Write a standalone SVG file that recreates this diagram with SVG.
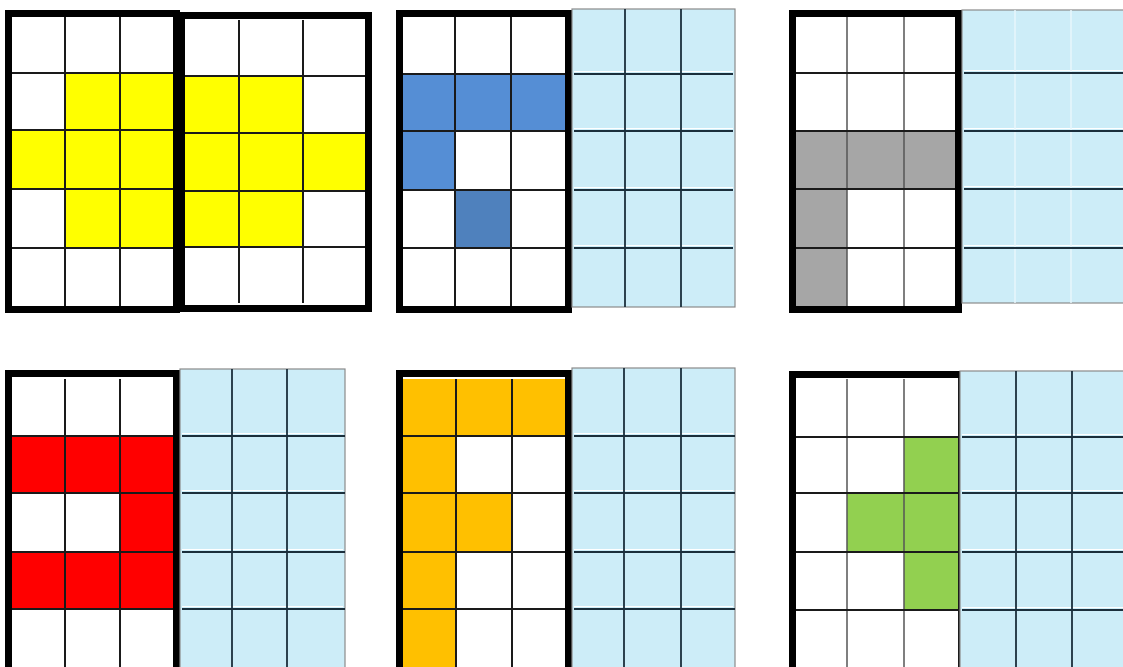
<svg xmlns="http://www.w3.org/2000/svg" width="1123" height="667" viewBox="0 0 1123 667">
<style>
.bg{fill:#ffffff}
.ln{stroke:#1a1a1a;stroke-width:2;fill:none}
.lng{stroke:#555;stroke-width:1.5;fill:none}
.bd{stroke:#000;stroke-width:7;fill:none}
.lb{fill:#CDEDF8;stroke:#8a8a8a;stroke-width:1.2}
.lbh{stroke:#1b2f3c;stroke-width:2.2;fill:none}
.lbv{stroke:#1b2f3c;stroke-width:1.8;fill:none}
.lbvl{stroke:#e8f6fb;stroke-width:1.5;fill:none}
.wh{stroke:#ffffff;stroke-width:1.2;fill:none}
.y{fill:#FFFF00}
.b1{fill:#558ED5}
.b2{fill:#4F81BD}
.g{fill:#A6A6A6}
.r{fill:#FF0000}
.o{fill:#FFC000}
.gr{fill:#92D050}
</style>
<rect width="1123" height="667" fill="#fff"/>

<!-- Panel 1 -->
<g id="panel1-left">
<rect class="y" x="65" y="73" width="109" height="57"/>
<rect class="y" x="12" y="130" width="162" height="59"/>
<rect class="y" x="65" y="189" width="109" height="59"/>
<path class="ln" d="M65 17V306M120 17V306M12 73H174M12 130H174M12 189H174M12 248H174"/>
<rect class="bd" x="8.5" y="13.5" width="168" height="296"/>
</g>
<g id="panel1-right">
<rect class="y" x="185" y="76" width="118" height="57"/>
<rect class="y" x="185" y="133" width="180" height="58"/>
<rect class="y" x="185" y="191" width="118" height="56"/>
<path class="ln" d="M239 20V303M303 20V303M185 76H365M185 133H365M185 191H365M185 247H365"/>
<rect class="bd" x="181.5" y="15.5" width="187" height="293"/>
</g>

<!-- Panel 2 -->
<g id="panel2-left">
<rect class="b1" x="403" y="74" width="162" height="57"/>
<rect class="b1" x="403" y="131" width="52" height="59"/>
<rect class="b2" x="455" y="190" width="56" height="58"/>
<path class="ln" d="M455 17V306M511 17V306M403 74H565M403 131H565M403 190H565M403 248H565"/>
<rect class="bd" x="399.5" y="13.5" width="169" height="296"/>
</g>
<g id="panel2-right">
<rect class="lb" x="572" y="9" width="163" height="298"/>
<path class="wh" d="M574 71.5H733M574 128.5H733M574 187.5H733M574 245.5H733"/>
<path class="lbv" d="M625 9V307M681 9V307"/>
<path class="lbh" d="M574 74H733M574 131H733M574 190H733M574 248H733"/>
</g>

<!-- Panel 3 -->
<g id="panel3-left">
<rect class="g" x="796" y="131" width="160" height="58"/>
<rect class="g" x="796" y="189" width="51" height="117"/>
<path class="lng" d="M847 17V306M904 17V306"/>
<path class="ln" d="M796 73H956M796 131H956M796 189H956M796 248H956"/>
<rect class="bd" x="792.5" y="13.5" width="166" height="296"/>
</g>
<g id="panel3-right">
<rect class="lb" x="962" y="10" width="170" height="293"/>
<path class="wh" d="M964 70.5H1123M964 128.5H1123M964 186.5H1123M964 245.5H1123"/>
<path class="lbvl" d="M1015 10V303M1071 10V303"/>
<path class="lbh" d="M964 73H1123M964 131H1123M964 189H1123M964 248H1123"/>
</g>

<!-- Panel 4 -->
<g id="panel4-left">
<rect class="r" x="12" y="436" width="161" height="57"/>
<rect class="r" x="120" y="493" width="53" height="59"/>
<rect class="r" x="12" y="552" width="161" height="57"/>
<path class="ln" d="M65 379V668M120 379V668M12 436H173M12 493H173M12 552H173M12 609H173"/>
<rect class="bd" x="8.5" y="373.5" width="168" height="310"/>
</g>
<g id="panel4-right">
<rect class="lb" x="180" y="369" width="165" height="310"/>
<path class="wh" d="M182 433.5H343M182 490.5H343M182 549.5H343M182 606.5H343"/>
<path class="lbv" d="M232 369V667M287 369V667"/>
<path class="lbh" d="M182 436H345M182 493H345M182 552H345M182 609H345"/>
</g>

<!-- Panel 5 -->
<g id="panel5-left">
<rect class="o" x="403" y="379" width="162" height="57"/>
<rect class="o" x="403" y="436" width="53" height="232"/>
<rect class="o" x="456" y="493" width="56" height="59"/>
<path class="ln" d="M456 379V668M512 379V668M403 436H565M403 493H565M403 552H565M403 609H565"/>
<rect class="bd" x="399.5" y="373.5" width="169" height="310"/>
</g>
<g id="panel5-right">
<rect class="lb" x="572" y="368" width="163" height="310"/>
<path class="wh" d="M574 433.5H733M574 490.5H733M574 549.5H733M574 606.5H733"/>
<path class="lbv" d="M624 368V667M681 368V667"/>
<path class="lbh" d="M574 436H735M574 493H735M574 552H735M574 609H735"/>
</g>

<!-- Panel 6 -->
<g id="panel6-left">
<rect class="gr" x="904" y="437" width="54" height="56"/>
<rect class="gr" x="847" y="493" width="111" height="59"/>
<rect class="gr" x="904" y="552" width="54" height="58"/>
<path class="lng" d="M847 379V668M904 379V668"/>
<path class="ln" d="M796 437H958M796 493H958M796 552H958M796 610H958"/>
<path class="ln" d="M959 374V668"/>
<path class="bd" d="M792.5 668V374.5H960"/>
</g>
<g id="panel6-right">
<rect class="lb" x="960" y="371" width="170" height="310"/>
<path class="wh" d="M962 434.5H1123M962 490.5H1123M962 549.5H1123M962 607.5H1123"/>
<path class="lbv" d="M1016 371V667M1072 371V667"/>
<path class="lbh" d="M962 437H1123M962 493H1123M962 552H1123M962 610H1123"/>
</g>
<g id="connectors"></g>
</svg>
